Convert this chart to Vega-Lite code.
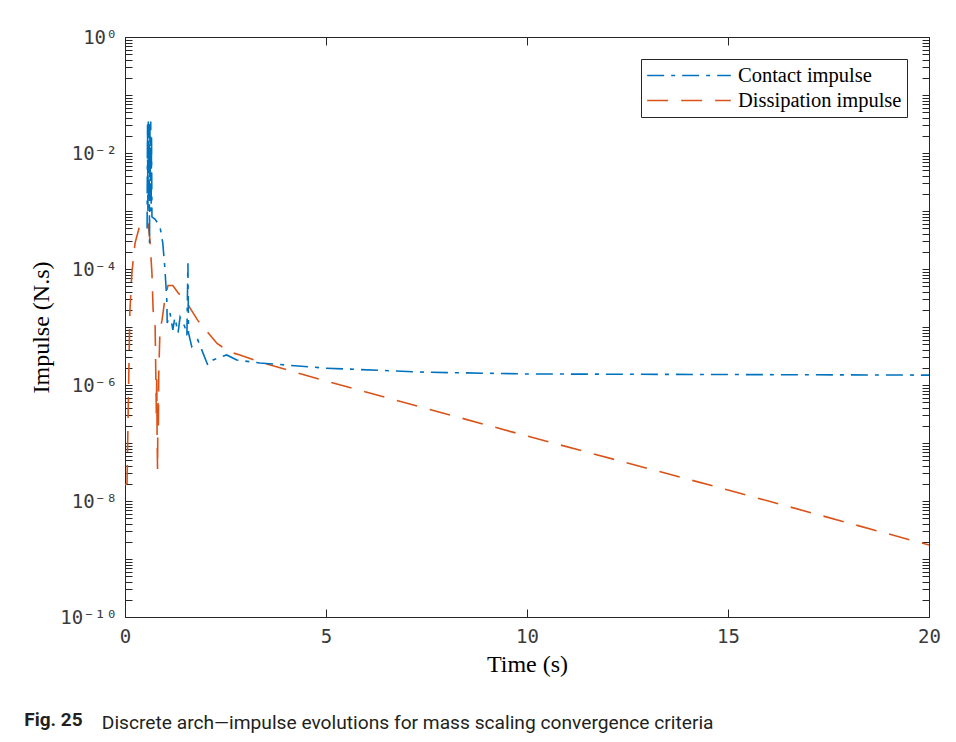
{
  "$schema": "https://vega.github.io/schema/vega-lite/v6.json",
  "autosize": {"type": "pad"},
  "padding": {"left": 24, "top": 27, "right": 10, "bottom": 10},
  "background": "white",
  "title": {
    "text": "Fig. 25",
    "orient": "bottom",
    "anchor": "start",
    "dx": -5,
    "dy": -23,
    "offset": 0,
    "font": "Roboto, sans-serif",
    "fontSize": 19,
    "fontWeight": "bold",
    "color": "#231f20"
  },
  "vconcat": [
    {
      "width": 804,
      "height": 580,
      "title": {
        "text": "Discrete arch—impulse evolutions for mass scaling convergence criteria",
        "orient": "bottom",
        "anchor": "start",
        "dx": 72,
        "offset": 38,
        "font": "Roboto, sans-serif",
        "fontSize": 19.2,
        "fontWeight": "normal",
        "color": "#231f20"
      },
      "data": {
        "values": [
          {"series": "Dissipation impulse", "t": 0.0, "v": 1.9e-8},
          {"series": "Dissipation impulse", "t": 0.05, "v": 2.0e-8},
          {"series": "Dissipation impulse", "t": 0.12, "v": 1.74e-5},
          {"series": "Dissipation impulse", "t": 0.17, "v": 8.5e-5},
          {"series": "Dissipation impulse", "t": 0.25, "v": 2.8e-4},
          {"series": "Dissipation impulse", "t": 0.37, "v": 5.75e-4},
          {"series": "Dissipation impulse", "t": 0.57, "v": 6.5e-4},
          {"series": "Dissipation impulse", "t": 0.62, "v": 3.16e-4},
          {"series": "Dissipation impulse", "t": 0.67, "v": 8.5e-5},
          {"series": "Dissipation impulse", "t": 0.70, "v": 1.95e-5},
          {"series": "Dissipation impulse", "t": 0.75, "v": 1.0e-5},
          {"series": "Dissipation impulse", "t": 0.78, "v": 3.2e-7},
          {"series": "Dissipation impulse", "t": 0.79, "v": 1.6e-6},
          {"series": "Dissipation impulse", "t": 0.80, "v": 1.0e-7},
          {"series": "Dissipation impulse", "t": 0.81, "v": 3.4e-8},
          {"series": "Dissipation impulse", "t": 0.82, "v": 6.3e-7},
          {"series": "Dissipation impulse", "t": 0.83, "v": 1.6e-7},
          {"series": "Dissipation impulse", "t": 0.84, "v": 1.6e-6},
          {"series": "Dissipation impulse", "t": 0.87, "v": 8.9e-6},
          {"series": "Dissipation impulse", "t": 0.92, "v": 1.3e-5},
          {"series": "Dissipation impulse", "t": 1.0, "v": 3.3e-5},
          {"series": "Dissipation impulse", "t": 1.07, "v": 5.2e-5},
          {"series": "Dissipation impulse", "t": 1.19, "v": 5.2e-5},
          {"series": "Dissipation impulse", "t": 1.32, "v": 3.9e-5},
          {"series": "Dissipation impulse", "t": 1.54, "v": 2.6e-5},
          {"series": "Dissipation impulse", "t": 1.81, "v": 1.3e-5},
          {"series": "Dissipation impulse", "t": 2.29, "v": 5.2e-6},
          {"series": "Dissipation impulse", "t": 2.61, "v": 3.7e-6},
          {"series": "Dissipation impulse", "t": 2.86, "v": 3.3e-6},
          {"series": "Dissipation impulse", "t": 3.35, "v": 2.5e-6},
          {"series": "Dissipation impulse", "t": 5.0, "v": 1.17e-6},
          {"series": "Dissipation impulse", "t": 10.0, "v": 1.32e-7},
          {"series": "Dissipation impulse", "t": 15.0, "v": 1.55e-8},
          {"series": "Dissipation impulse", "t": 20.0, "v": 1.74e-9},
          {"series": "Contact impulse", "t": 0.55, "v": 5.0e-4},
          {"series": "Contact impulse", "t": 0.56, "v": 3.16e-2},
          {"series": "Contact impulse", "t": 0.57, "v": 1.0e-3},
          {"series": "Contact impulse", "t": 0.58, "v": 3.5e-2},
          {"series": "Contact impulse", "t": 0.59, "v": 1.6e-3},
          {"series": "Contact impulse", "t": 0.60, "v": 3.16e-2},
          {"series": "Contact impulse", "t": 0.61, "v": 2.8e-4},
          {"series": "Contact impulse", "t": 0.62, "v": 2.5e-2},
          {"series": "Contact impulse", "t": 0.63, "v": 3.2e-3},
          {"series": "Contact impulse", "t": 0.64, "v": 3.5e-2},
          {"series": "Contact impulse", "t": 0.65, "v": 1.0e-3},
          {"series": "Contact impulse", "t": 0.66, "v": 2.0e-2},
          {"series": "Contact impulse", "t": 0.67, "v": 7.9e-4},
          {"series": "Contact impulse", "t": 0.75, "v": 7.2e-4},
          {"series": "Contact impulse", "t": 0.87, "v": 5.4e-4},
          {"series": "Contact impulse", "t": 0.94, "v": 2.8e-4},
          {"series": "Contact impulse", "t": 0.99, "v": 1.07e-4},
          {"series": "Contact impulse", "t": 1.04, "v": 2.95e-5},
          {"series": "Contact impulse", "t": 1.05, "v": 1.17e-5},
          {"series": "Contact impulse", "t": 1.12, "v": 1.74e-5},
          {"series": "Contact impulse", "t": 1.19, "v": 8.9e-6},
          {"series": "Contact impulse", "t": 1.24, "v": 1.45e-5},
          {"series": "Contact impulse", "t": 1.32, "v": 7.9e-6},
          {"series": "Contact impulse", "t": 1.37, "v": 1.48e-5},
          {"series": "Contact impulse", "t": 1.49, "v": 1.0e-5},
          {"series": "Contact impulse", "t": 1.54, "v": 7.2e-6},
          {"series": "Contact impulse", "t": 1.565, "v": 1.26e-4},
          {"series": "Contact impulse", "t": 1.58, "v": 7.9e-6},
          {"series": "Contact impulse", "t": 1.66, "v": 4.6e-6},
          {"series": "Contact impulse", "t": 1.81, "v": 6.0e-6},
          {"series": "Contact impulse", "t": 2.06, "v": 2.2e-6},
          {"series": "Contact impulse", "t": 2.19, "v": 2.7e-6},
          {"series": "Contact impulse", "t": 2.36, "v": 3.0e-6},
          {"series": "Contact impulse", "t": 2.53, "v": 3.3e-6},
          {"series": "Contact impulse", "t": 2.78, "v": 2.7e-6},
          {"series": "Contact impulse", "t": 3.35, "v": 2.4e-6},
          {"series": "Contact impulse", "t": 5.0, "v": 1.95e-6},
          {"series": "Contact impulse", "t": 7.5, "v": 1.66e-6},
          {"series": "Contact impulse", "t": 10.0, "v": 1.55e-6},
          {"series": "Contact impulse", "t": 20.0, "v": 1.48e-6}
        ]
      },
      "layer": [
        {
          "mark": {"type": "line", "strokeWidth": 1.6, "clip": true},
          "encoding": {
            "x": {
              "field": "t", "type": "quantitative",
              "scale": {"domain": [0, 20], "nice": false},
              "axis": {
                "orient": "bottom", "values": [0, 5, 10, 15, 20], "tickSize": -8,
                "labelPadding": 18, "labelFlush": false, "domain": false, "grid": false,
                "labelFont": "DejaVu Sans Mono", "labelFontSize": 19, "labelColor": "#3a3a3a",
                "tickColor": "#262626", "title": "Time (s)", "titleFont": "Liberation Serif",
                "titleFontSize": 24, "titleFontWeight": "normal", "titleColor": "#000000", "titlePadding": 6
              }
            },
            "y": {
              "field": "v", "type": "quantitative",
              "scale": {"type": "log", "domain": [1e-10, 1], "nice": false},
              "axis": {
                "orient": "left",
                "values": [1e-10,2e-10,3e-10,4e-10,5e-10,6e-10,7e-10,8e-10,9e-10,1e-9,2e-9,3e-9,4e-9,5e-9,6e-9,7e-9,8e-9,9e-9,1e-8,2e-8,3e-8,4e-8,5e-8,6e-8,7e-8,8e-8,9e-8,1e-7,2e-7,3e-7,4e-7,5e-7,6e-7,7e-7,8e-7,9e-7,1e-6,2e-6,3e-6,4e-6,5e-6,6e-6,7e-6,8e-6,9e-6,1e-5,2e-5,3e-5,4e-5,5e-5,6e-5,7e-5,8e-5,9e-5,1e-4,2e-4,3e-4,4e-4,5e-4,6e-4,7e-4,8e-4,9e-4,1e-3,2e-3,3e-3,4e-3,5e-3,6e-3,7e-3,8e-3,9e-3,1e-2,2e-2,3e-2,4e-2,5e-2,6e-2,7e-2,8e-2,9e-2,0.1,0.2,0.3,0.4,0.5,0.6,0.7,0.8,0.9,1],
                "labelExpr": "datum.value == 1 ? '10⁰' : datum.value == 0.01 ? '10⁻²' : datum.value == 0.0001 ? '10⁻⁴' : datum.value == 0.000001 ? '10⁻⁶' : datum.value == 1e-8 ? '10⁻⁸' : datum.value == 1e-10 ? '10⁻¹⁰' : ''",
                "labelOverlap": false, "labelBound": false,
                "tickSize": -7, "labelPadding": 15, "domain": false, "grid": false,
                "labelFont": "DejaVu Sans Mono", "labelFontSize": 19, "labelColor": "#3a3a3a",
                "tickColor": "#262626", "title": "Impulse (N.s)", "titleFont": "Liberation Serif",
                "titleFontSize": 24, "titleFontWeight": "normal", "titleColor": "#000000", "titlePadding": 6
              }
            },
            "color": {
              "field": "series", "type": "nominal",
              "scale": {"domain": ["Contact impulse", "Dissipation impulse"], "range": ["#0072BD", "#D95319"]},
              "legend": {"title": null}
            },
            "strokeDash": {
              "field": "series", "type": "nominal",
              "scale": {"domain": ["Contact impulse", "Dissipation impulse"], "range": [[17, 7, 4, 7], [21, 13]]},
              "legend": {"title": null}
            }
          }
        },
        {
          "mark": {"type": "line", "opacity": 0},
          "encoding": {
            "x": {
              "field": "t", "type": "quantitative",
              "axis": {"orient": "top", "values": [0, 5, 10, 15, 20], "tickSize": -8, "labels": false, "title": null, "domain": false, "grid": false, "tickColor": "#262626"}
            },
            "y": {
              "field": "v", "type": "quantitative",
              "axis": {"orient": "right", "values": [1e-10,2e-10,3e-10,4e-10,5e-10,6e-10,7e-10,8e-10,9e-10,1e-9,2e-9,3e-9,4e-9,5e-9,6e-9,7e-9,8e-9,9e-9,1e-8,2e-8,3e-8,4e-8,5e-8,6e-8,7e-8,8e-8,9e-8,1e-7,2e-7,3e-7,4e-7,5e-7,6e-7,7e-7,8e-7,9e-7,1e-6,2e-6,3e-6,4e-6,5e-6,6e-6,7e-6,8e-6,9e-6,1e-5,2e-5,3e-5,4e-5,5e-5,6e-5,7e-5,8e-5,9e-5,1e-4,2e-4,3e-4,4e-4,5e-4,6e-4,7e-4,8e-4,9e-4,1e-3,2e-3,3e-3,4e-3,5e-3,6e-3,7e-3,8e-3,9e-3,1e-2,2e-2,3e-2,4e-2,5e-2,6e-2,7e-2,8e-2,9e-2,0.1,0.2,0.3,0.4,0.5,0.6,0.7,0.8,0.9,1], "tickSize": -7, "labels": false, "title": null, "domain": false, "grid": false, "tickColor": "#262626"}
            },
            "detail": {"field": "series", "type": "nominal"}
          }
        }
      ],
      "resolve": {"axis": {"x": "independent", "y": "independent"}}
    }
  ],
  "config": {
    "view": {"stroke": "#262626", "strokeWidth": 1},
    "concat": {"spacing": 0},
    "legend": {
      "orient": "top-right",
      "offset": 22,
      "fillColor": "white",
      "strokeColor": "#262626",
      "padding": 5,
      "symbolType": "stroke",
      "symbolSize": 7000,
      "symbolStrokeWidth": 1.6,
      "labelFont": "Liberation Serif",
      "labelFontSize": 20.5,
      "labelColor": "#000000",
      "labelOffset": 6,
      "clipHeight": 23,
      "rowPadding": 2,
      "labelLimit": 300
    }
  }
}
